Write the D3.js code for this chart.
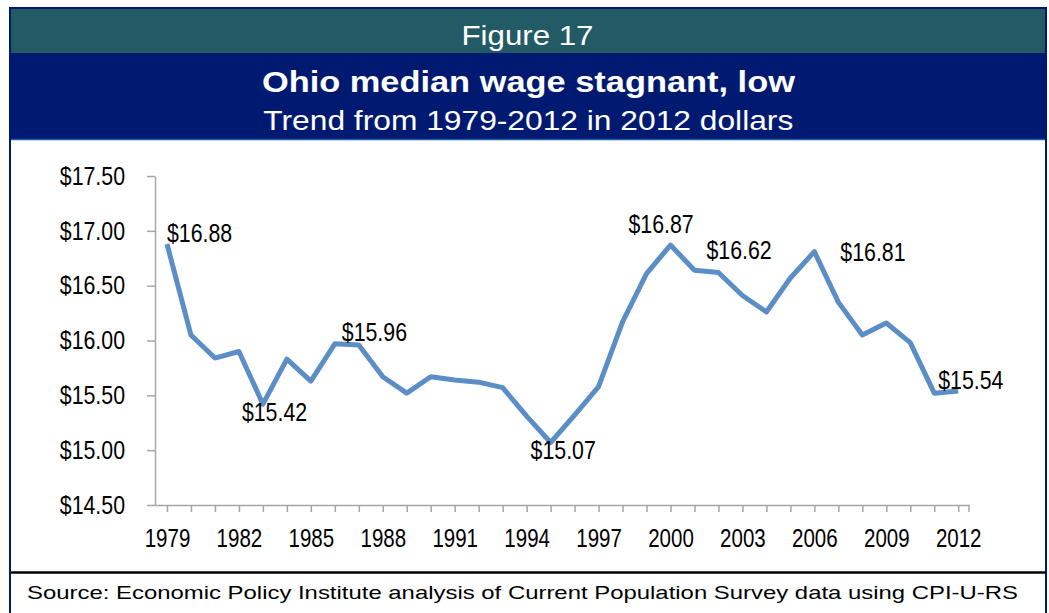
<!DOCTYPE html>
<html>
<head>
<meta charset="utf-8">
<script src="https://cdn.jsdelivr.net/npm/d3@7"></script>
<style>
  body { margin: 0; background: #fff; }
  svg { display: block; }
</style>
</head>
<body>
<svg id="chart"></svg>
<script>
const width = 1049
const height = 613

const years = [1979, 1980, 1981, 1982, 1983, 1984, 1985, 1986, 1987, 1988, 1989,
  1990, 1991, 1992, 1993, 1994, 1995, 1996, 1997, 1998, 1999, 2000, 2001, 2002,
  2003, 2004, 2005, 2006, 2007, 2008, 2009, 2010, 2011, 2012]
const wages = [16.88, 16.05, 15.84, 15.90, 15.42, 15.83, 15.63, 15.97, 15.96, 15.67, 15.52,
  15.67, 15.64, 15.62, 15.57, 15.31, 15.07, 15.32, 15.58, 16.17, 16.61, 16.87, 16.64, 16.62,
  16.41, 16.26, 16.57, 16.81, 16.35, 16.05, 16.16, 15.98, 15.52, 15.54]
const yTicks = [14.5, 15, 15.5, 16, 16.5, 17, 17.5]
const xLabelYears = [1979, 1982, 1985, 1988, 1991, 1994, 1997, 2000, 2003, 2006, 2009, 2012]
const labelYears = [1979, 1983, 1987, 1995, 2000, 2002, 2006, 2012]
// label nudges (px) relative to the point, text-anchor start
const labelDx = [0, -21, -17, -20, -42, -12, 26, -20]
const labelDy = [-2, 17, -4, 17, -12, -14, 9, -2]

const figureText = 'Figure 17'
const titleText = 'Ohio median wage stagnant, low'
const subtitleText = 'Trend from 1979-2012 in 2012 dollars'
const sourceText = 'Source: Economic Policy Institute analysis of Current Population Survey data using CPI-U-RS'

const navy = '#001a72'
const teal = '#225a66'
const lineColor = '#5b8ec6'
const axisColor = '#a6a6a6'
const font = '"Liberation Sans", Arial, sans-serif'
const narrow = 0.82 // the chart labels are set in a condensed face

const svg = d3.select('#chart')
  .attr('width', width)
  .attr('height', height)

// squeeze a text horizontally to fake a narrow font
function condense(sel) {
  sel.each(function () {
    const w = this.getComputedTextLength()
    if (w > 0) {
      d3.select(this)
        .attr('textLength', w * narrow)
        .attr('lengthAdjust', 'spacingAndGlyphs')
    }
  })
}

// frame and header bands
svg.append('rect')
  .attr('x', 10).attr('y', 8)
  .attr('width', 1036).attr('height', 640)
  .attr('fill', '#fff')
  .attr('stroke', navy)
  .attr('stroke-width', 2)

svg.append('rect')
  .attr('x', 11).attr('y', 9)
  .attr('width', 1034).attr('height', 44)
  .attr('fill', teal)

svg.append('rect')
  .attr('x', 11).attr('y', 53)
  .attr('width', 1034).attr('height', 86)
  .attr('fill', navy)

svg.append('line')
  .attr('x1', 11).attr('x2', 1045)
  .attr('y1', 139.5).attr('y2', 139.5)
  .attr('stroke', '#1a5ea8')
  .attr('stroke-width', 1.5)

svg.append('text')
  .attr('x', 527.5).attr('y', 45)
  .attr('text-anchor', 'middle')
  .attr('font-family', font)
  .attr('font-size', 28)
  .attr('fill', '#fff')
  .attr('textLength', 132)
  .attr('lengthAdjust', 'spacingAndGlyphs')
  .text(figureText)

svg.append('text')
  .attr('x', 528.4).attr('y', 92)
  .attr('text-anchor', 'middle')
  .attr('font-family', font)
  .attr('font-weight', 'bold')
  .attr('font-size', 29)
  .attr('fill', '#fff')
  .attr('textLength', 533)
  .attr('lengthAdjust', 'spacingAndGlyphs')
  .text(titleText)

svg.append('text')
  .attr('x', 528.3).attr('y', 130)
  .attr('text-anchor', 'middle')
  .attr('font-family', font)
  .attr('font-size', 28)
  .attr('fill', '#fff')
  .attr('textLength', 530)
  .attr('lengthAdjust', 'spacingAndGlyphs')
  .text(subtitleText)

// source strip
svg.append('line')
  .attr('x1', 11).attr('x2', 1046)
  .attr('y1', 572.5).attr('y2', 572.5)
  .attr('stroke', '#000')
  .attr('stroke-width', 2.5)

svg.append('text')
  .attr('x', 27).attr('y', 599)
  .attr('font-family', font)
  .attr('font-size', 19)
  .attr('fill', '#000')
  .attr('textLength', 991)
  .attr('lengthAdjust', 'spacingAndGlyphs')
  .text(sourceText)

// scales
const x = d3.scaleLinear()
  .domain([1978.5, 2012.45])
  .range([155, 969])

const y = d3.scaleLinear()
  .domain([14.5, 17.5])
  .range([505, 176])

const plot = svg.append('g')

// y axis
const yAxis = plot.append('g')
  .attr('transform', `translate(${x.range()[0]},0)`)
  .call(d3.axisLeft(y)
    .tickValues(yTicks)
    .tickSize(8)
    .tickSizeOuter(0)
    .tickPadding(22)
    .tickFormat(d3.format('$.2f')))
yAxis.selectAll('path, line').attr('stroke', axisColor).attr('stroke-width', 1.5)
yAxis.selectAll('text')
  .attr('font-family', font)
  .attr('font-size', 26)
  .attr('fill', '#000')
  .call(condense)

// x axis
const xAxis = plot.append('g')
  .attr('transform', `translate(0,${y.range()[0]})`)
  .call(d3.axisBottom(x)
    .tickValues(years)
    .tickSize(7)
    .tickSizeOuter(0)
    .tickPadding(17)
    .tickFormat((d) => xLabelYears.includes(d) ? String(d) : ''))
xAxis.append('line')
  .attr('x1', x.range()[1]).attr('x2', x.range()[1])
  .attr('y1', 0).attr('y2', 7)
xAxis.selectAll('path, line').attr('stroke', axisColor).attr('stroke-width', 1.5)
xAxis.selectAll('text')
  .attr('font-family', font)
  .attr('font-size', 25)
  .attr('fill', '#000')
  .call(condense)

// series line
const data = years.map((yr, i) => ({ year: yr, wage: wages[i] }))

const line = d3.line()
  .x((d) => x(d.year))
  .y((d) => y(d.wage))

plot.append('path')
  .datum(data)
  .attr('fill', 'none')
  .attr('stroke', lineColor)
  .attr('stroke-width', 5)
  .attr('stroke-linejoin', 'round')
  .attr('d', line)

// data labels
plot.append('g')
  .selectAll('text')
  .data(labelYears)
  .join('text')
    .attr('x', (yr) => x(yr))
    .attr('y', (yr) => y(wages[years.indexOf(yr)]))
    .attr('dx', (yr, i) => labelDx[i])
    .attr('dy', (yr, i) => labelDy[i])
    .attr('font-family', font)
    .attr('font-size', 26)
    .attr('fill', '#000')
    .text((yr) => d3.format('$.2f')(wages[years.indexOf(yr)]))
    .call(condense)
</script>
</body>
</html>
